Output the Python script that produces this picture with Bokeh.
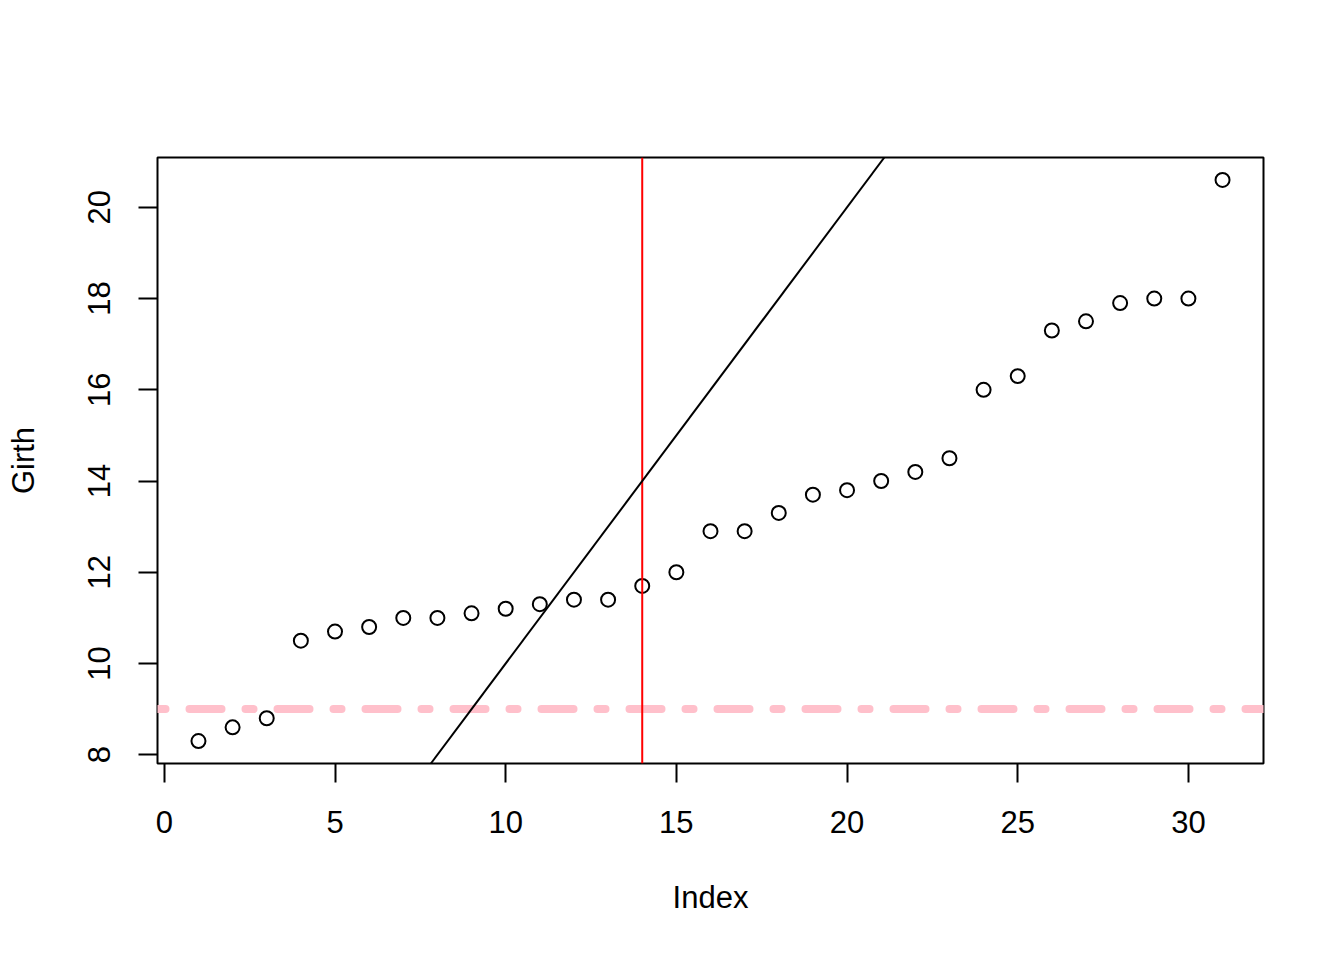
from bokeh.plotting import figure
from bokeh.models import Span, Slope, FixedTicker, Range1d
from bokeh.embed import file_html
from bokeh.resources import INLINE

girth = [8.3, 8.6, 8.8, 10.5, 10.7, 10.8, 11.0, 11.0, 11.1, 11.2, 11.3, 11.4, 11.4,
         11.7, 12.0, 12.9, 12.9, 13.3, 13.7, 13.8, 14.0, 14.2, 14.5, 16.0, 16.3,
         17.3, 17.5, 17.9, 18.0, 18.0, 20.6]
index = list(range(1, len(girth) + 1))
x_ticks = [0, 5, 10, 15, 20, 25, 30]
y_ticks = [8, 10, 12, 14, 16, 18, 20]
h_line = 9
v_line = 14
ab_intercept = 0
ab_slope = 1

FONT = "Liberation Sans"

xpad = (max(index) - min(index)) * 0.04
ypad = (max(girth) - min(girth)) * 0.04

p = figure(width=1328, height=944, output_backend="svg", toolbar_location=None,
           x_range=Range1d(min(index) - xpad, max(index) + xpad),
           y_range=Range1d(min(girth) - ypad, max(girth) + ypad),
           min_border_left=157, min_border_right=65, min_border_top=157,
           min_border_bottom=181)
p.grid.visible = False
p.outline_line_color = "black"
p.outline_line_width = 2
p.background_fill_color = "white"
p.border_fill_color = "white"

for ax in (p.xaxis[0], p.yaxis[0]):
    ax.axis_line_color = None
    ax.major_tick_in = 0
    ax.major_tick_out = 19
    ax.major_tick_line_width = 2
    ax.major_tick_line_color = "black"
    ax.minor_tick_line_color = None
    ax.major_label_text_font = FONT
    ax.major_label_text_font_size = "31px"
    ax.major_label_text_color = "black"
    ax.axis_label_text_font = FONT
    ax.axis_label_text_font_size = "31px"
    ax.axis_label_text_font_style = "normal"
    ax.axis_label_text_color = "black"

p.xaxis[0].ticker = FixedTicker(ticks=x_ticks)
p.yaxis[0].ticker = FixedTicker(ticks=y_ticks)
p.yaxis[0].major_label_orientation = "vertical"
p.xaxis[0].major_label_standoff = 28
p.yaxis[0].major_label_standoff = 28
p.xaxis[0].axis_label = "Index"
p.yaxis[0].axis_label = "Girth"
p.xaxis[0].axis_label_standoff = 44
p.yaxis[0].axis_label_standoff = 45

p.scatter(index, girth, marker="circle", size=14, fill_color=None,
          line_color="black", line_width=2)

p.add_layout(Span(location=h_line, dimension="width", line_color="pink",
                  line_width=8, line_dash="8 24 32 24", line_cap="round"))
p.add_layout(Span(location=v_line, dimension="height", line_color="red",
                  line_width=2))
p.add_layout(Slope(gradient=ab_slope, y_intercept=ab_intercept,
                   line_color="black", line_width=2))

open("out.html", "w").write(file_html(p, INLINE))
